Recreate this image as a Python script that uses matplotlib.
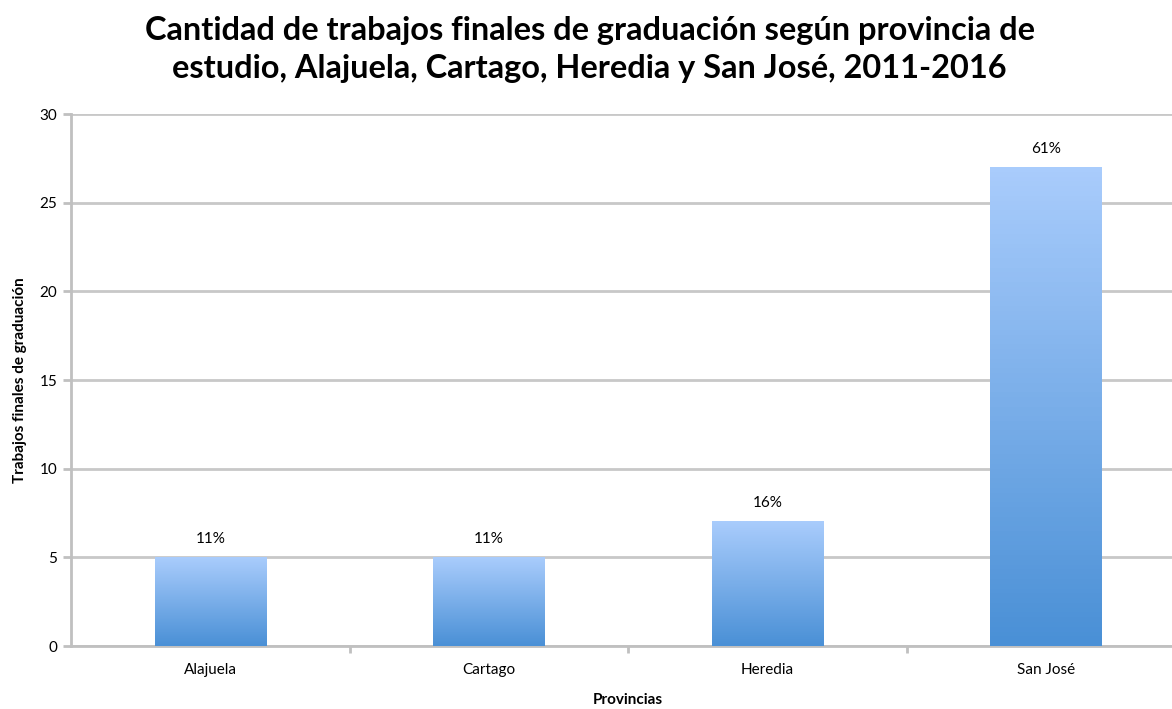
import matplotlib.pyplot as plt
import numpy as np
from matplotlib.colors import LinearSegmentedColormap

provincias = ['Alajuela', 'Cartago', 'Heredia', 'San José']
trabajos = [5, 5, 7, 27]
porcentajes = ['11%', '11%', '16%', '61%']

plt.rcParams['font.family'] = ['Lato', 'DejaVu Sans']

fig = plt.figure(figsize=(11.72, 7.09), dpi=100)
ax = fig.add_axes([71/1172, 63/709, 1114/1172, 532/709])

grad = LinearSegmentedColormap.from_list('barra', ['#4a90d6', '#a9ccfc'])
x = np.arange(len(provincias))
width = 0.40
for xi, val, pct in zip(x, trabajos, porcentajes):
    ax.imshow(np.linspace(0, 1, 100).reshape(-1, 1), cmap=grad, origin='lower',
              extent=[xi - width/2, xi + width/2, 0, val], aspect='auto', zorder=3)
    ax.text(xi, val + 0.65, pct, ha='center', va='bottom', fontsize=11)

ax.set_xlim(-0.5, len(provincias) - 0.5)
ax.set_ylim(0, 30)
ax.set_yticks(range(0, 31, 5))
ax.set_xticks(x)
ax.set_xticklabels(provincias, fontsize=11)
ax.set_xticks(np.arange(0.5, len(provincias) - 0.5, 1), minor=True)
ax.tick_params(axis='x', which='major', length=0, pad=12)
ax.tick_params(axis='x', which='minor', length=5, width=2, color='#c0c0c0')
ax.tick_params(axis='y', length=6, width=2, color='#c0c0c0', labelsize=11, pad=4)
ax.yaxis.grid(True, color='#c8c8c8', linewidth=2, zorder=0)
ax.set_axisbelow(True)
for s in ['top', 'right']:
    ax.spines[s].set_visible(False)
for s in ['left', 'bottom']:
    ax.spines[s].set_color('#c0c0c0')
    ax.spines[s].set_linewidth(2)

ax.set_xlabel('Provincias', fontsize=11, fontweight='bold', labelpad=12)
ax.set_ylabel('Trabajos finales de graduación', fontsize=11, fontweight='bold', labelpad=9)

fig.suptitle('Cantidad de trabajos finales de graduación según provincia de\n'
             'estudio, Alajuela, Cartago, Heredia y San José, 2011-2016',
             x=0.503, y=0.978, fontsize=23.4, fontweight='bold', linespacing=1.4)

fig.savefig('out.png', dpi=100)
